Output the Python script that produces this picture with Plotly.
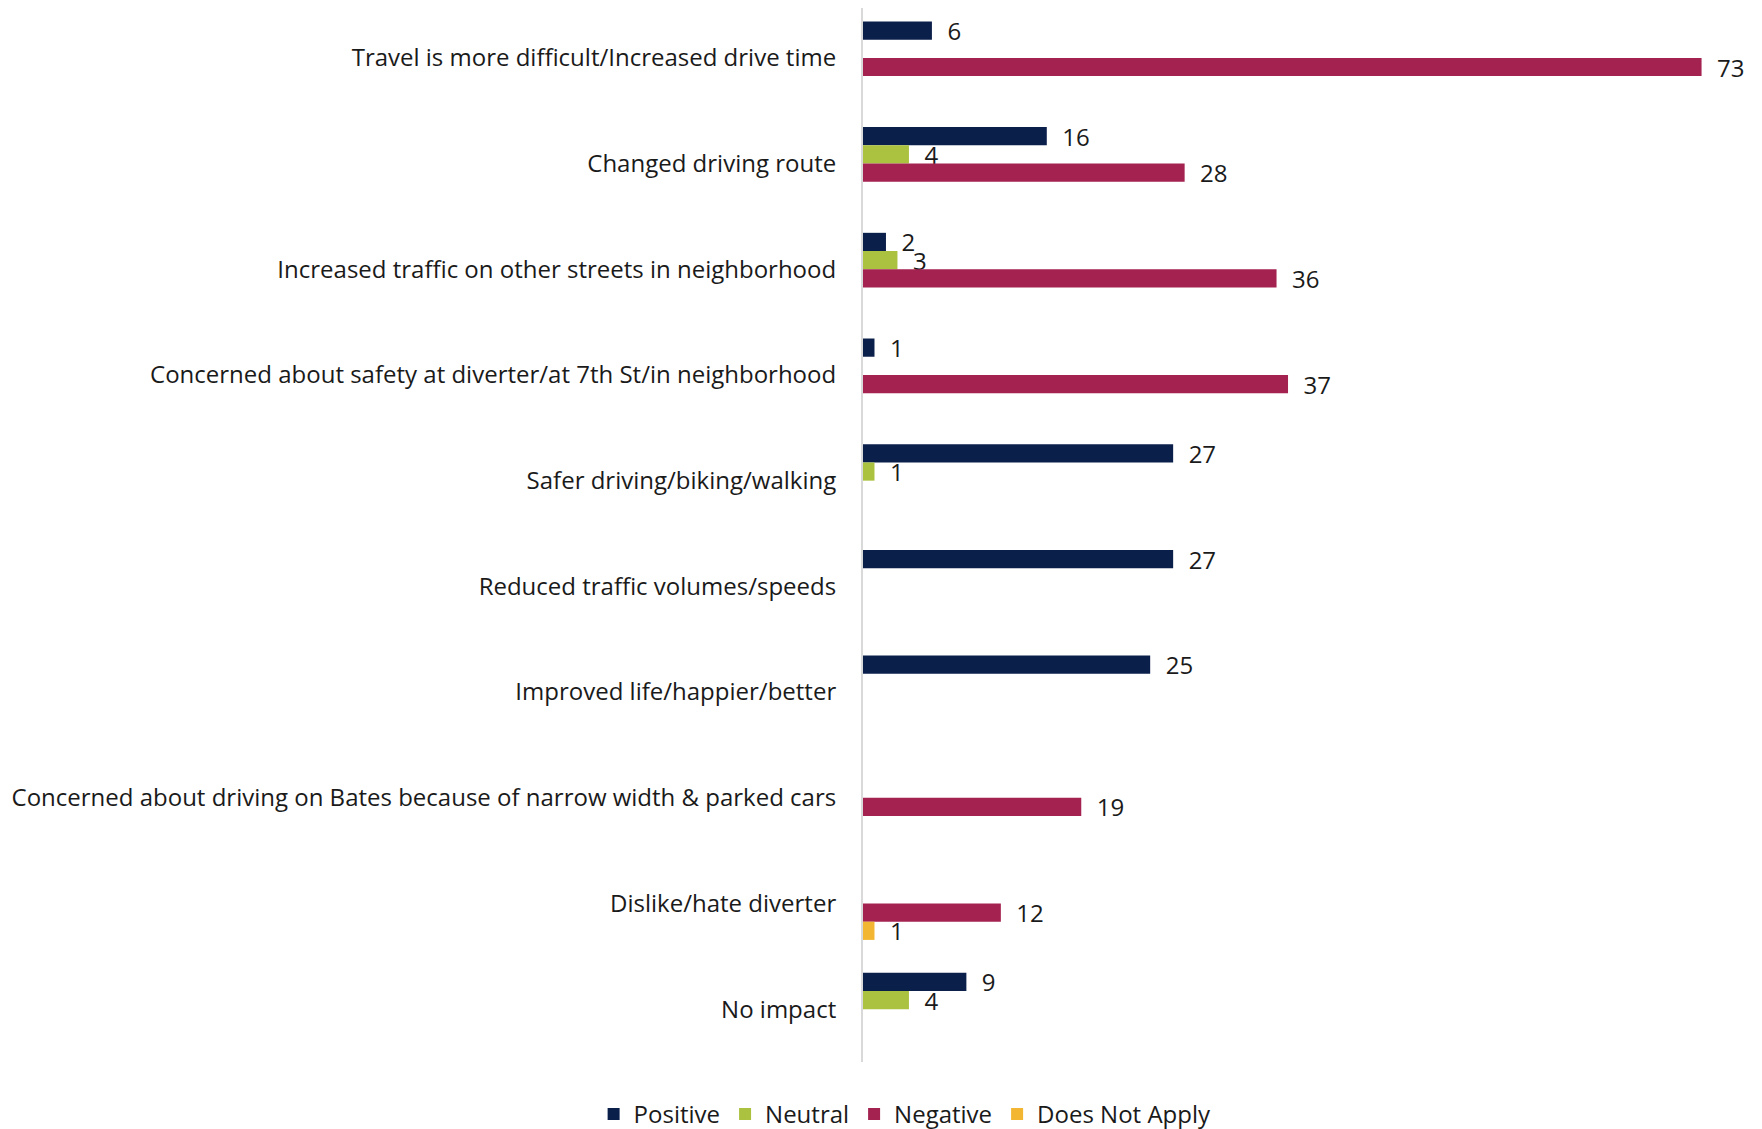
import plotly.graph_objects as go

categories = [
    "Travel is more difficult/Increased drive time",
    "Changed driving route",
    "Increased traffic on other streets in neighborhood",
    "Concerned about safety at diverter/at 7th St/in neighborhood",
    "Safer driving/biking/walking",
    "Reduced traffic volumes/speeds",
    "Improved life/happier/better",
    "Concerned about driving on Bates because of narrow width & parked cars",
    "Dislike/hate diverter",
    "No impact",
]
positive = [6, 16, 2, 1, 27, 27, 25, None, None, 9]
neutral = [None, 4, 3, None, 1, None, None, None, None, 4]
negative = [73, 28, 36, 37, None, None, None, 19, 12, None]
does_not_apply = [None, None, None, None, None, None, None, None, 1, None]

series = [
    ("Positive", positive, "#0B1F4B"),
    ("Neutral", neutral, "#ABC241"),
    ("Negative", negative, "#A3224F"),
    ("Does Not Apply", does_not_apply, "#F2B632"),
]

FONT = "Open Sans"
FS = 24
fig = go.Figure()
for name, vals, color in series:
    fig.add_trace(go.Bar(
        y=categories, x=vals, name=name, orientation="h",
        marker=dict(color=color, line=dict(width=0)),
        text=["  " + str(v) if v is not None else "" for v in vals],
        textposition="outside", textfont=dict(family=FONT, size=FS, color="#1a1a1a"),
        cliponaxis=False, constraintext="none",
    ))

fig.update_layout(
    width=1762, height=1129,
    barmode="group", bargap=0.31, bargroupgap=0,
    plot_bgcolor="white", paper_bgcolor="white",
    margin=dict(l=855, r=11, t=0, b=74),
    font=dict(family=FONT, size=FS, color="#1a1a1a"),
    xaxis=dict(range=[0, 78], showgrid=False, showticklabels=False, zeroline=False,
               showline=False, ticks=""),
    yaxis=dict(range=[9.5, -0.472], showgrid=False, zeroline=False,
               showline=True, linecolor="#d9d9d9", linewidth=2,
               ticks="", ticklabelstandoff=20,
               tickfont=dict(family=FONT, size=FS, color="#1a1a1a")),
    legend=dict(orientation="h", x=0.047, xanchor="center", y=-0.05, yanchor="middle",
                font=dict(family=FONT, size=FS, color="#1a1a1a"),
                itemwidth=30, traceorder="normal"),
)

fig.write_html("out.html")
